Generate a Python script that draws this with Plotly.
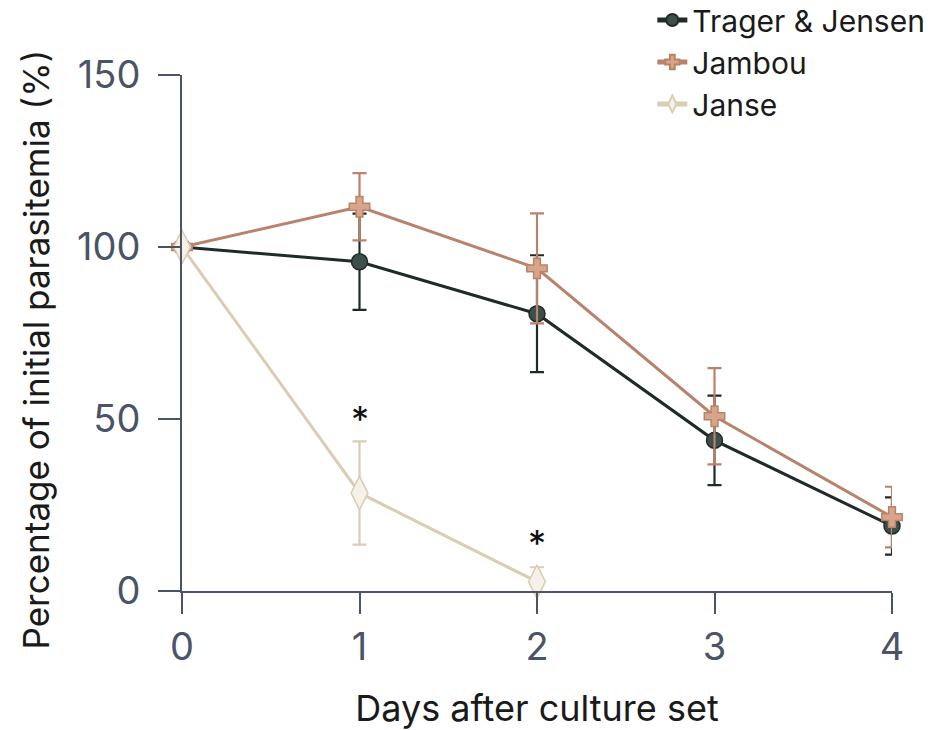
import plotly.graph_objects as go

days = [0, 1, 2, 3, 4]
trager = [100, 95.7, 80.6, 43.8, 18.9]
trager_err = [0, 14, 17, 13, 8.3]
jambou = [100, 111.7, 93.8, 50.8, 21.5]
jambou_err = [0, 9.8, 16, 14, 8.8]
janse_days = [0, 1, 2]
janse = [100, 28.5, 2.7]
janse_err = [0, 15, 4.2]
star_days = [1, 2]
star_y = [50, 14]

tick_color = "#4a5466"
fig = go.Figure()

fig.add_trace(go.Scatter(
    x=days, y=trager, name="Trager & Jensen", mode="lines+markers",
    line=dict(color="#1f2b29", width=3),
    marker=dict(symbol="circle", size=16, color="#3d4f4b", line=dict(color="#1f2b29", width=1.5)),
    error_y=dict(type="data", array=trager_err, color="#1f2b29", thickness=2.2, width=7),
    cliponaxis=False,
))
fig.add_trace(go.Scatter(
    x=days, y=jambou, name="Jambou", mode="lines+markers",
    line=dict(color="#b9826a", width=3),
    marker=dict(symbol="cross", size=17, color="#d9a58a", line=dict(color="#b9826a", width=1.5)),
    error_y=dict(type="data", array=jambou_err, color="#b9826a", thickness=2.2, width=7),
    cliponaxis=False,
))
fig.add_trace(go.Scatter(
    x=janse_days, y=janse, name="Janse", mode="lines+markers",
    line=dict(color="#d9cdb3", width=3),
    marker=dict(symbol="diamond-tall", size=24, color="#f6f1e8", line=dict(color="#d9cdb3", width=1.5)),
    error_y=dict(type="data", array=janse_err, color="#d9cdb3", thickness=2.2, width=7),
    cliponaxis=False,
))

for d, yv in zip(star_days, star_y):
    fig.add_annotation(x=d, y=yv, text="*", showarrow=False,
                       font=dict(size=36, color="#111111", family="Inter"))

fig.add_annotation(text="Percentage of initial parasitemia (%)", textangle=-90,
                   xref="paper", yref="paper", x=-0.205, y=0.469,
                   xanchor="center", yanchor="middle", showarrow=False,
                   font=dict(size=35, color="#1a1a1a", family="Inter"))

fig.update_layout(
    width=937, height=730,
    margin=dict(l=182, r=45, t=75, b=139, autoexpand=False),
    paper_bgcolor="white", plot_bgcolor="white",
    font=dict(family="Inter", color="#1a1a1a"),
    showlegend=True,
    legend=dict(x=1.054, xanchor="right", y=1.157, yanchor="top",
                font=dict(size=30, color="#1a1a1a"), bgcolor="rgba(0,0,0,0)",
                itemsizing="constant", tracegroupgap=0),
    xaxis=dict(range=[0, 4], tickvals=[0, 1, 2, 3, 4], showgrid=False, zeroline=False,
               showline=True, linecolor=tick_color, linewidth=2,
               ticks="outside", ticklen=21, tickwidth=2, tickcolor=tick_color,
               tickfont=dict(size=38, color=tick_color),
               title=dict(text="Days after culture set", font=dict(size=36, color="#1a1a1a"), standoff=29)),
    yaxis=dict(range=[0, 150], tickvals=[0, 50, 100, 150], showgrid=False, zeroline=False,
               showline=True, linecolor=tick_color, linewidth=2,
               ticks="outside", ticklen=22, tickwidth=2, tickcolor=tick_color,
               ticklabelstandoff=10,
               tickfont=dict(size=38, color=tick_color)),
)

fig.write_html("out.html")
